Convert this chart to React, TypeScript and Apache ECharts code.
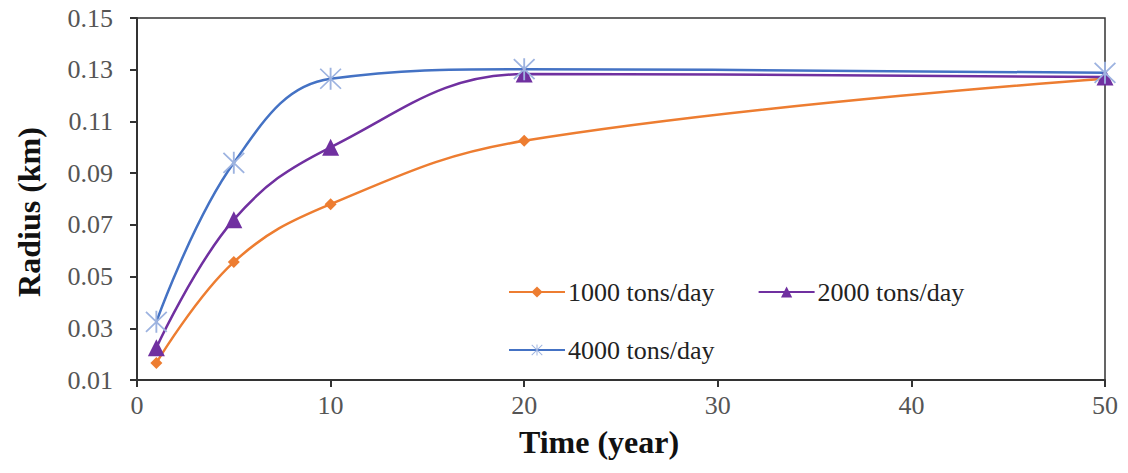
import React, { useEffect, useRef } from "react";
import * as echarts from "echarts";

const years = [1, 5, 10, 20, 50];
const seriesNames = ["1000 tons/day", "2000 tons/day", "4000 tons/day"];
const r1000 = [0.0166, 0.0556, 0.078, 0.1025, 0.1265];
const r2000 = [0.0225, 0.072, 0.1, 0.1283, 0.1272];
const r4000 = [0.0325, 0.094, 0.1265, 0.1302, 0.1288];
const xTicks = { min: 0, max: 50, interval: 10 };
const yTicks = { min: 0.01, max: 0.15, interval: 0.02 };

const FONT = "'Liberation Serif', 'Times New Roman', serif";

const STAR =
  "path://M-0.45,-5.5L0.45,-5.5L0.45,5.5L-0.45,5.5Z" +
  "M-5.3,-4.7L-4.7,-5.3L5.3,4.7L4.7,5.3Z" +
  "M4.7,-5.3L5.3,-4.7L-4.7,5.3L-5.3,4.7Z";

export default function App() {
  const ref = useRef<HTMLDivElement>(null);
  useEffect(() => {
    if (!ref.current) return;
    const chart = echarts.init(ref.current, null, { renderer: "svg" });
    const mk = (vals: number[]) => years.map((x, i) => [x, vals[i]]);
    chart.setOption({
      animation: false,
      backgroundColor: "#ffffff",
      grid: {
        left: 137,
        right: 23,
        top: 18,
        bottom: 93,
        show: true,
        borderColor: "#333",
        borderWidth: 1.5,
        containLabel: false,
      },
      legend: [
        {
          data: [seriesNames[0], seriesNames[1]],
          left: 503,
          top: 274,
          itemWidth: 56,
          itemHeight: 14,
          itemGap: 43,
          textStyle: { fontFamily: FONT, fontSize: 26, color: "#222", padding: [0, 0, 0, -2] },
        },
        {
          data: [seriesNames[2]],
          left: 503,
          top: 332,
          itemWidth: 56,
          itemHeight: 14,
          textStyle: { fontFamily: FONT, fontSize: 26, color: "#222", padding: [0, 0, 0, -2] },
        },
      ],
      xAxis: {
        type: "value",
        min: xTicks.min,
        max: xTicks.max,
        interval: xTicks.interval,
        name: "Time (year)",
        nameLocation: "middle",
        nameGap: 46,
        nameTextStyle: {
          fontFamily: FONT,
          fontSize: 32,
          fontWeight: "bold",
          color: "#111",
          padding: [0, 44, 0, 0],
        },
        axisLine: { show: true, lineStyle: { color: "#333", width: 2 } },
        axisTick: { show: true, inside: false, length: 7, lineStyle: { color: "#333", width: 2 } },
        axisLabel: { fontFamily: FONT, fontSize: 26, color: "#555", margin: 12 },
        splitLine: { show: false },
      },
      yAxis: {
        type: "value",
        min: yTicks.min,
        max: yTicks.max,
        interval: yTicks.interval,
        name: "Radius (km)",
        nameLocation: "middle",
        nameGap: 92,
        nameTextStyle: {
          fontFamily: FONT,
          fontSize: 32,
          fontWeight: "bold",
          color: "#111",
          padding: [0, 26, 0, 0],
        },
        axisLine: { show: true, lineStyle: { color: "#333", width: 2 } },
        axisTick: { show: true, inside: false, length: 7, lineStyle: { color: "#333", width: 2 } },
        axisLabel: {
          fontFamily: FONT,
          fontSize: 26,
          color: "#555",
          margin: 24,
          formatter: (v: number) => v.toFixed(2),
        },
        splitLine: { show: false },
      },
      series: [
        {
          name: seriesNames[0],
          type: "line",
          smooth: 0.4,
          data: mk(r1000),
          symbol: "diamond",
          symbolSize: 12,
          itemStyle: { color: "#ED7D31" },
          lineStyle: { color: "#ED7D31", width: 2.5 },
        },
        {
          name: seriesNames[1],
          type: "line",
          smooth: 0.4,
          data: mk(r2000),
          symbol: "triangle",
          symbolSize: 17,
          itemStyle: { color: "#7030A0" },
          lineStyle: { color: "#7030A0", width: 2.5 },
        },
        {
          name: seriesNames[2],
          type: "line",
          smooth: 0.4,
          data: mk(r4000),
          symbol: STAR,
          symbolSize: 22,
          itemStyle: { color: "#9DB3E0" },
          lineStyle: { color: "#4472C4", width: 2.5 },
        },
      ],
    });
    return () => chart.dispose();
  }, []);
  return (
    <div
      ref={ref}
      style={{ position: "fixed", left: 0, top: 0, width: 1128, height: 473, background: "#fff" }}
    />
  );
}
